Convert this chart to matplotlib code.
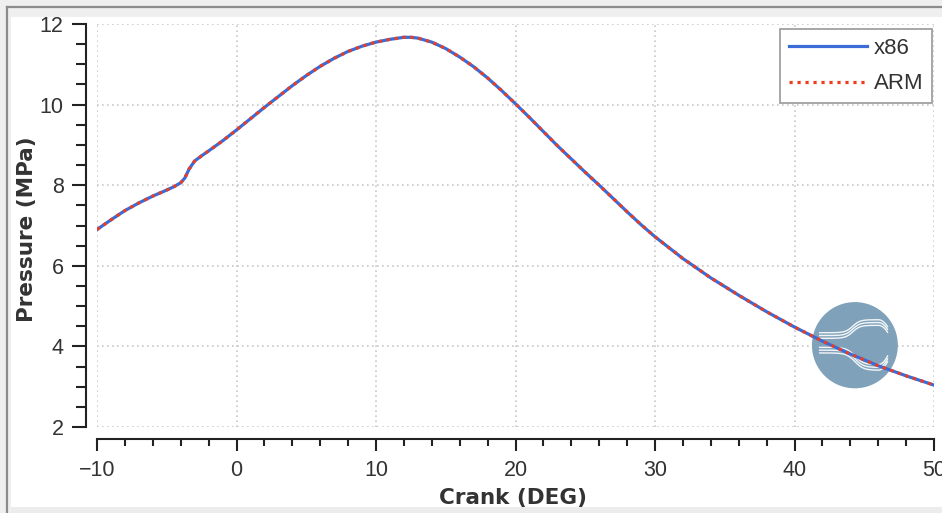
import numpy as np
import matplotlib
matplotlib.use('Agg')
from matplotlib import pyplot as plt
from matplotlib.patches import Rectangle, Ellipse
from matplotlib.lines import Line2D
from matplotlib.ticker import MultipleLocator

# 曲线数据
crank = [-10, -9, -8, -7, -6, -5, -4.5, -4, -3.7, -3.4, -3, -2.5, -2, -1, 0,
         1, 2, 3, 4, 5, 6, 7, 8, 9, 10, 11, 12, 12.5, 13, 14, 15, 16, 17, 18,
         19, 20, 21, 22, 23, 24, 25, 26, 27, 28, 29, 30, 32, 34, 36, 38, 40,
         42, 44, 46, 48, 50]
p_x86 = [6.90, 7.14, 7.37, 7.56, 7.73, 7.88, 7.96, 8.06, 8.18, 8.40, 8.60,
         8.73, 8.85, 9.10, 9.37, 9.65, 9.93, 10.20, 10.47, 10.72, 10.95,
         11.15, 11.32, 11.45, 11.55, 11.62, 11.67, 11.67, 11.65, 11.55,
         11.39, 11.18, 10.94, 10.66, 10.35, 10.02, 9.68, 9.33, 8.98, 8.65,
         8.32, 8.00, 7.67, 7.34, 7.02, 6.72, 6.18, 5.70, 5.27, 4.86, 4.48,
         4.13, 3.81, 3.52, 3.27, 3.04]
p_arm = list(p_x86)
labels = ['x86', 'ARM']

plt.rcParams['font.family'] = ['Liberation Sans', 'DejaVu Sans']

W, H = 942, 513
fig = plt.figure(figsize=(W / 100, H / 100), dpi=100)
fig.patch.set_facecolor('#efefef')

# 窗口边框
fig.add_artist(Rectangle((11 / W, 0), 1, (H - 6 - 11) / H, transform=fig.transFigure,
                         facecolor='white', edgecolor='none', zorder=-5))
fig.add_artist(Rectangle((11 / W, 0), 1, 6 / H, transform=fig.transFigure,
                         facecolor='#ececec', edgecolor='none', zorder=-4))
fig.add_artist(Line2D([7 / W, 7 / W], [0, (H - 6.5) / H], transform=fig.transFigure,
                      color='#8c8c8c', lw=1.6))
fig.add_artist(Line2D([7 / W, 1], [(H - 6.5) / H, (H - 6.5) / H], transform=fig.transFigure,
                      color='#8c8c8c', lw=1.6))

ax = fig.add_axes([97 / W, 86 / H, 837 / W, 403 / H])
ax.set_facecolor('white')

ax.plot(crank, p_x86, color='#3a6bd6', lw=2.3, label=labels[0], zorder=3)
ax.plot(crank, p_arm, color='#f03c1e', lw=2.3, ls=(0, (1, 1.5)), label=labels[1], zorder=4)

# 标志
cx, cy, rx, ry = 44.33, 4.03, 3.08, 1.07
ax.add_patch(Ellipse((cx, cy), 2 * rx, 2 * ry, facecolor='#7fa2ba', edgecolor='none', zorder=2))
u = np.linspace(-0.82, 0.76, 80)
hook = np.clip((u - 0.55) / 0.21, 0, None) ** 2
for k in range(3):
    v_up = 0.16 + k * 0.065 + 0.30 * 0.5 * (1 + np.tanh((u + 0.05) / 0.17)) - 0.16 * hook
    ax.plot(cx + u * rx, cy + v_up * ry, color='white', lw=1.0, alpha=0.9, zorder=2.5)
    v_lo = -0.05 - k * 0.065 - 0.40 * 0.5 * (1 + np.tanh((u - 0.0) / 0.2)) + 0.2 * hook
    ax.plot(cx + u * rx, cy + v_lo * ry, color='white', lw=1.0, alpha=0.9, zorder=2.5)

ax.set_xlim(-10, 50)
ax.set_ylim(2, 12)
ax.xaxis.set_major_locator(MultipleLocator(10))
ax.xaxis.set_minor_locator(MultipleLocator(2))
ax.yaxis.set_major_locator(MultipleLocator(2))
ax.yaxis.set_minor_locator(MultipleLocator(0.5))

ax.grid(True, which='major', color='#c8c8c8', ls=(0, (1, 2)), lw=1.2)

for s in ['top', 'right']:
    ax.spines[s].set_visible(False)
ax.spines['left'].set_position(('outward', 8))
ax.spines['bottom'].set_position(('outward', 8.6))
ax.spines['left'].set_bounds(2, 12)
ax.spines['bottom'].set_bounds(-10, 50)
for s in ['left', 'bottom']:
    ax.spines[s].set_linewidth(1.5)
    ax.spines[s].set_color('#222222')

ax.tick_params(axis='x', which='major', length=8.6, width=1.5, pad=6.5,
               labelsize=15.5, colors='#222222', labelcolor='#333333')
ax.tick_params(axis='x', which='minor', length=5, width=1.5, colors='#222222')
ax.tick_params(axis='y', which='major', length=10, width=1.5, pad=6,
               labelsize=15.5, colors='#222222', labelcolor='#333333')
ax.tick_params(axis='y', which='minor', length=7, width=1.5, colors='#222222')

ax.set_xlabel('Crank (DEG)', family='DejaVu Sans', fontweight='bold', fontsize=15.5,
              color='#333333', va='center')
ax.xaxis.set_label_coords(0.4976, -0.175)
ax.set_ylabel('Pressure (MPa)', family='DejaVu Sans', fontweight='bold', fontsize=15.5,
              color='#333333', va='center')
ax.yaxis.set_label_coords(-0.0836, 0.49)

leg = ax.legend(loc='upper right', bbox_to_anchor=(0.9976, 0.9876), borderaxespad=0,
                fontsize=16, handlelength=3.5, handletextpad=0.3, labelspacing=0.65,
                borderpad=0.4, fancybox=False, framealpha=1, edgecolor='#a0a0a0')
leg.get_frame().set_linewidth(1.3)
for t in leg.get_texts():
    t.set_color('#333333')

fig.savefig('out.png', dpi=100, facecolor=fig.get_facecolor())
